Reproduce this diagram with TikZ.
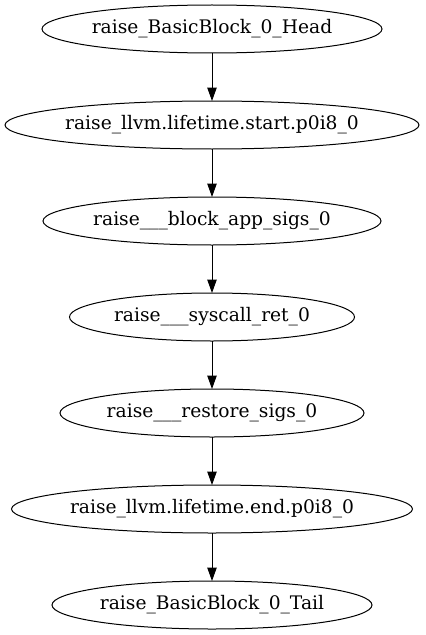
\documentclass[tikz,border=0pt]{standalone}
\usepackage{fontspec}
\setmainfont{DejaVu Serif}
\usetikzlibrary{arrows.meta}
\usetikzlibrary{positioning}
\usetikzlibrary{shapes.geometric}

\begin{document}
\begin{tikzpicture}[
      block/.style={ellipse, draw=black, line width=0.75pt, inner xsep=-30pt, inner ysep=0pt, outer sep=0pt, minimum height=36pt, font=\fontsize{14}{17}\selectfont},
      arrow/.style={-{Triangle[length=10pt,width=7pt]}, line width=0.75pt},
      node distance=36pt
      ]

      \useasboundingbox (-159pt,21.75pt) rectangle (159.75pt,-454.5pt);

      % Nodes
      \node[block, minimum width=255pt] (head) at (0,0) {raise\_BasicBlock\_0\_Head};
      \node[block, minimum width=310.5pt, below=of head] (start) {raise\_llvm.lifetime.start.p0i8\_0};
      \node[block, minimum width=253.5pt, below=of start] (appsigs) {raise\_\_\_block\_app\_sigs\_0};
      \node[block, minimum width=213.75pt, below=of appsigs] (syscall) {raise\_\_\_syscall\_ret\_0};
      \node[block, minimum width=228pt, below=of syscall] (restore) {raise\_\_\_restore\_sigs\_0};
      \node[block, minimum width=300.75pt, below=of restore] (end) {raise\_llvm.lifetime.end.p0i8\_0};
      \node[block, minimum width=240pt, below=of end] (tail) {raise\_BasicBlock\_0\_Tail};

      % Arrows
      \draw[arrow] (head) -- (start);
      \draw[arrow] (start) -- (appsigs);
      \draw[arrow] (appsigs) -- (syscall);
      \draw[arrow] (syscall) -- (restore);
      \draw[arrow] (restore) -- (end);
      \draw[arrow] (end) -- (tail);

    \end{tikzpicture}
\end{document}
